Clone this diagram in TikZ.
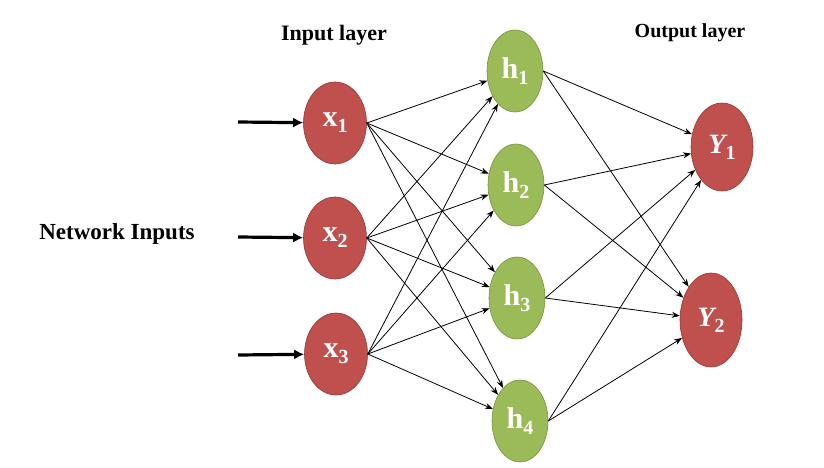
\documentclass[tikz,border=0pt]{standalone}
\usepackage{fontspec}
\setmainfont{Liberation Serif}
\usetikzlibrary{arrows.meta}
\definecolor{nred}{RGB}{192,80,77}
\definecolor{nredd}{RGB}{150,55,52}
\definecolor{ngreen}{RGB}{155,187,89}
\definecolor{ngreend}{RGB}{118,146,60}
\newcommand{\lbl}[2]{#1{\fontsize{20}{20}\selectfont\raisebox{-6pt}{#2}}}
\tikzset{
  innode/.style={ellipse, fill=nred, draw=nredd, line width=0.6pt, minimum width=63pt, minimum height=82pt, inner sep=0pt, text=white, font=\fontsize{30}{30}\selectfont\bfseries},
  hidnode/.style={ellipse, fill=ngreen, draw=ngreend, line width=0.6pt, minimum width=56pt, minimum height=82pt, inner sep=0pt, text=white, font=\fontsize{30}{30}\selectfont\bfseries},
  outnode/.style={ellipse, fill=nred, draw=nredd, line width=0.6pt, minimum width=62pt, minimum height=88pt, inner sep=0pt, text=white, font=\fontsize{28}{28}\selectfont\bfseries\itshape},
  conn/.style={-{Stealth[length=8pt,width=6pt]}, line width=0.8pt, black},
  feed/.style={-{Latex[length=10pt,width=10pt]}, line width=3.2pt, black},
  title/.style={inner sep=0pt}
}
\usetikzlibrary{shapes.geometric}
\begin{document}
\begin{tikzpicture}[x=1pt,y=-1pt]
\useasboundingbox (0,0) rectangle (824,468);
\node[title, font=\fontsize{22}{22}\selectfont\bfseries] (tin) at (334,35) {Input layer};
\node[title, font=\fontsize{20}{20}\selectfont\bfseries] (tout) at (690,33) {Output layer};
\node[font=\fontsize{23}{23}\selectfont\bfseries, inner sep=0pt] (net) at (117,234) {Network Inputs};

\node[innode] (x1) at (335,123) {\lbl{x}{1}};
\node[innode] (x2) at (335,238) {\lbl{x}{2}};
\node[innode] (x3) at (336,354) {\lbl{x}{3}};

\node[hidnode] (h1) at (515,71) {\lbl{h}{1}};
\node[hidnode] (h2) at (516,185) {\lbl{h}{2}};
\node[hidnode] (h3) at (517,298) {\lbl{h}{3}};
\node[hidnode] (h4) at (520,421) {\lbl{h}{4}};

\node[outnode] (y1) at (722,147) {\lbl{Y}{\upshape 1}};
\node[outnode, minimum height=94pt] (y2) at (711,320) {\lbl{Y}{\upshape 2}};

\coordinate (a1) at (238,122);
\coordinate (a2) at (238,237);
\coordinate (a3) at (238,355);
\draw[feed] (a1) -- (x1);
\draw[feed] (a2) -- (x2);
\draw[feed] (a3) -- (x3);

\foreach \i in {1,2,3}{
  \foreach \j in {1,2,3,4}{
    \draw[conn] (x\i.east) -- (h\j);
  }
}
\foreach \j in {1,2,3,4}{
  \foreach \k in {1,2}{
    \draw[conn] (h\j.east) -- (y\k);
  }
}
\end{tikzpicture}
\end{document}
